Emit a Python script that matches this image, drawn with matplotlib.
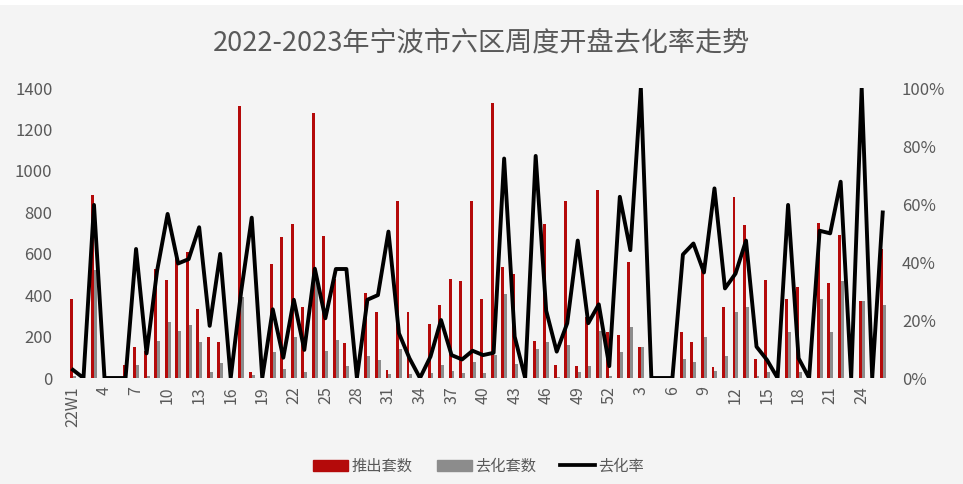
import numpy as np
import matplotlib.pyplot as plt
from matplotlib.patches import Patch, Rectangle
from matplotlib.lines import Line2D
from matplotlib.ticker import FuncFormatter

plt.rcParams['font.family'] = ['Noto Sans CJK SC', 'DejaVu Sans']

# week labels: 2022 W1..W52, 2023 W1..W26
weeks = ['22W1'] + [str(w) for w in range(2, 53)] + [str(w) for w in range(1, 27)]

# 推出套数 (units launched)
launched = [380, 0, 882, 0, 0, 63, 148, 130, 525, 473,
            605, 610, 331, 196, 174, 0, 1313, 30, 0, 549,
            679, 746, 344, 1282, 685, 480, 167, 0, 412, 317,
            39, 854, 317, 0, 261, 352, 479, 467, 854, 380,
            1326, 534, 500, 0, 180, 746, 64, 854, 58, 296,
            907, 220, 208, 562, 148, 0, 0, 0, 224, 175,
            553, 55, 344, 875, 739, 90, 473, 0, 380, 441,
            0, 750, 460, 692, 0, 372, 0, 623]

# 去化套数 (units sold)
sold = [11, 0, 521, 0, 0, 0, 64, 12, 180, 270,
        228, 256, 174, 30, 71, 0, 390, 16, 0, 127,
        43, 196, 30, 480, 132, 183, 58, 0, 106, 87,
        19, 142, 19, 0, 22, 64, 33, 22, 77, 26,
        111, 405, 70, 0, 142, 174, 6, 158, 27, 60,
        227, 10, 127, 248, 148, 0, 0, 0, 93, 79,
        200, 36, 106, 317, 344, 10, 29, 0, 224, 30,
        0, 380, 222, 468, 0, 372, 0, 352]

# 去化率 (%)
rate = [2.8, 0, 59.7, 0, 0, 0, 44.5, 8.5, 37, 56.6,
        39.5, 41, 52, 18, 42.8, 0, 30, 55.3, 0, 23.7,
        7, 27, 9.7, 37.7, 20.6, 37.6, 37.6, 0, 27, 28.6,
        50.5, 15.4, 6.8, 0, 7.4, 20, 7.9, 6.4, 9.4, 7.9,
        8.7, 75.7, 14.3, 0, 76.6, 23.2, 9.1, 18.9, 47.4, 18.9,
        25.4, 4.1, 62.5, 44.1, 100, 0, 0, 0, 42.6, 46.4,
        36.4, 65.4, 30.9, 36, 47.4, 10.8, 6.2, 0, 59.7, 6.8,
        0, 50.8, 49.9, 67.7, 0, 100, 0, 57.1]

red = '#B40A0A'
gray = '#8C8C8C'
txt = '#595959'

x = np.arange(len(weeks))
bw = 0.28

fig = plt.figure(figsize=(9.63, 4.84), dpi=100, facecolor='#F4F4F4')
fig.patches.append(Rectangle((0, 0.99), 1, 0.01, transform=fig.transFigure,
                             facecolor='white', edgecolor='none'))
ax = fig.add_axes([0.0703, 0.219, 0.8518, 0.599])
ax.set_facecolor('none')

ax.bar(x - bw / 2, launched, width=bw, color=red, zorder=2)
ax.bar(x + bw / 2, sold, width=bw, color=gray, zorder=2)
ax.set_xlim(-0.5, len(weeks) - 0.5)
ax.set_ylim(0, 1400)
ax.set_yticks(range(0, 1401, 200))

ax2 = ax.twinx()
ax2.plot(x, np.array(rate) / 100, color='black', lw=2.8,
         solid_joinstyle='round', zorder=3)
ax2.set_ylim(0, 1)
ax2.set_yticks(np.arange(0, 1.01, 0.2))
ax2.yaxis.set_major_formatter(FuncFormatter(lambda v, p: f'{v:.0%}'))

tick_pos = x[::3]
ax.set_xticks(tick_pos)
ax.set_xticklabels([weeks[i] for i in tick_pos], rotation=90)

for a in (ax, ax2):
    for s in a.spines.values():
        s.set_visible(False)
    a.tick_params(length=0, colors=txt, labelsize=12)
ax.tick_params(axis='y', pad=11)
ax2.tick_params(axis='y', pad=10)
ax.tick_params(axis='x', pad=6, labelsize=11.5)

fig.text(0.5, 0.912, '2022-2023年宁波市六区周度开盘去化率走势',
         ha='center', va='center', fontsize=19.5, color=txt)

handles = [Patch(color=red), Patch(color=gray),
           Line2D([], [], color='black', lw=2.7)]
fig.legend(handles, ['推出套数', '去化套数', '去化率'], loc='center',
           bbox_to_anchor=(0.497, 0.037), ncol=3, frameon=False,
           fontsize=11, labelcolor=txt, handlelength=2.3, handletextpad=0.2,
           columnspacing=1.6)

fig.savefig('out.png', dpi=100, facecolor=fig.get_facecolor())
